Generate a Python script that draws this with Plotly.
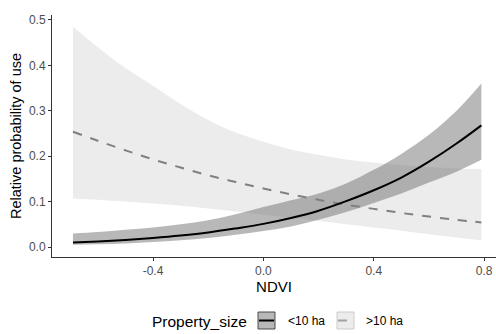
import plotly.graph_objects as go

ndvi = [-0.69, -0.6, -0.5, -0.4, -0.3, -0.2, -0.1, 0.0, 0.1, 0.2, 0.3, 0.4, 0.5, 0.6, 0.7, 0.79]

small_fit = [0.010, 0.0124, 0.0157, 0.020, 0.0253, 0.032, 0.041, 0.051, 0.064, 0.080, 0.101, 0.125, 0.153, 0.188, 0.228, 0.268]
small_upper = [0.030, 0.033, 0.038, 0.043, 0.050, 0.059, 0.072, 0.088, 0.103, 0.118, 0.140, 0.170, 0.205, 0.247, 0.300, 0.360]
small_lower = [0.005, 0.006, 0.008, 0.011, 0.015, 0.020, 0.027, 0.035, 0.045, 0.060, 0.077, 0.097, 0.118, 0.142, 0.166, 0.192]

large_fit = [0.254, 0.234, 0.213, 0.193, 0.175, 0.158, 0.143, 0.129, 0.116, 0.104, 0.093, 0.084, 0.075, 0.067, 0.060, 0.054]
large_upper = [0.485, 0.44, 0.394, 0.355, 0.315, 0.28, 0.252, 0.232, 0.215, 0.203, 0.193, 0.186, 0.18, 0.176, 0.173, 0.172]
large_lower = [0.107, 0.104, 0.100, 0.096, 0.091, 0.085, 0.078, 0.071, 0.064, 0.058, 0.050, 0.043, 0.036, 0.028, 0.021, 0.015]

x_ticks = [-0.4, 0.0, 0.4, 0.8]
x_ticktext = ["-0.4", "0.0", "0.4", "0.8"]
y_ticks = [0.0, 0.1, 0.2, 0.3, 0.4, 0.5]
y_ticktext = ["0.0", "0.1", "0.2", "0.3", "0.4", "0.5"]

legend_title = "Property_size"
groups = ["<10 ha", ">10 ha"]

LIGHT = "rgba(200,200,200,0.34)"
DARK = "rgba(100,100,100,0.46)"
FONT = "Liberation Sans, Arial, sans-serif"

fig = go.Figure()
# >10 ha ribbon
fig.add_trace(go.Scatter(x=ndvi, y=large_lower, mode="lines", line=dict(width=0, shape="spline"), hoverinfo="skip", showlegend=False))
fig.add_trace(go.Scatter(x=ndvi, y=large_upper, mode="lines", line=dict(width=0, shape="spline"), fill="tonexty",
                         fillcolor=LIGHT, hoverinfo="skip", showlegend=False))
# <10 ha ribbon
fig.add_trace(go.Scatter(x=ndvi, y=small_lower, mode="lines", line=dict(width=0, shape="spline"), hoverinfo="skip", showlegend=False))
fig.add_trace(go.Scatter(x=ndvi, y=small_upper, mode="lines", line=dict(width=0, shape="spline"), fill="tonexty",
                         fillcolor=DARK, hoverinfo="skip", showlegend=False))
# lines
fig.add_trace(go.Scatter(x=ndvi, y=large_fit, mode="lines", line=dict(color="#808080", width=2, dash="dash", shape="spline"),
                         showlegend=False))
fig.add_trace(go.Scatter(x=ndvi, y=small_fit, mode="lines", line=dict(color="#000000", width=2, shape="spline"),
                         showlegend=False))

W, H = 496, 334
L, R, T, B = 52, 0, 15, 77
pw, ph = W - L - R, H - T - B

def px(xp):
    return (xp - L) / pw

def py(yp):
    return (H - B - yp) / ph

# manual legend (ggplot style)
shapes = []
annotations = []
annotations.append(dict(text=legend_title, x=px(199), y=py(321), xref="paper", yref="paper", showarrow=False,
                        font=dict(size=15.5, color="#000000", family=FONT),
                        xanchor="center", yanchor="middle"))
keys = [(258, DARK, "rgba(60,60,60,0.9)", "#000000", "solid", groups[0], 286),
        (337, LIGHT, "rgba(200,200,200,0.9)", "#a0a0a0", "dash", groups[1], 364)]
for x0, fc, bc, lc, dash, label, tx in keys:
    shapes.append(dict(type="rect", xref="paper", yref="paper", x0=px(x0), x1=px(x0 + 17), y0=py(329), y1=py(312),
                       fillcolor=fc, line=dict(color=bc, width=1)))
    shapes.append(dict(type="line", xref="paper", yref="paper", x0=px(x0 + 1), x1=px(x0 + 16), y0=py(320.5), y1=py(320.5),
                       line=dict(color=lc, width=2, dash="dash" if dash == "dash" else "solid")))
    annotations.append(dict(text=label, x=px(tx), y=py(321), xref="paper", yref="paper", showarrow=False,
                            font=dict(size=12, color="#000000", family=FONT),
                            xanchor="left", yanchor="middle"))

axis_common = dict(showgrid=False, zeroline=False, showline=True, linecolor="#333333", linewidth=1,
                   ticks="outside", ticklen=3, tickwidth=1, tickcolor="#333333",
                   tickfont=dict(size=12, color="#4d4d4d", family=FONT))

fig.update_layout(
    width=W, height=H,
    margin=dict(l=L, r=R, t=T, b=B, pad=0),
    plot_bgcolor="white", paper_bgcolor="white",
    showlegend=False,
    xaxis=dict(range=[-0.766, 0.843], tickvals=x_ticks, ticktext=x_ticktext,
               title=dict(text="NDVI", font=dict(size=15, color="#000000", family=FONT), standoff=2),
               **axis_common),
    yaxis=dict(range=[-0.022, 0.511], tickvals=y_ticks, ticktext=y_ticktext,
               title=dict(text="Relative probability of use", font=dict(size=14.5, color="#000000", family=FONT), standoff=3),
               **axis_common),
    shapes=shapes, annotations=annotations,
)

fig.write_html("out.html", config={"displayModeBar": False},
               post_script="document.body.style.margin='0';document.body.style.overflow='hidden';")
